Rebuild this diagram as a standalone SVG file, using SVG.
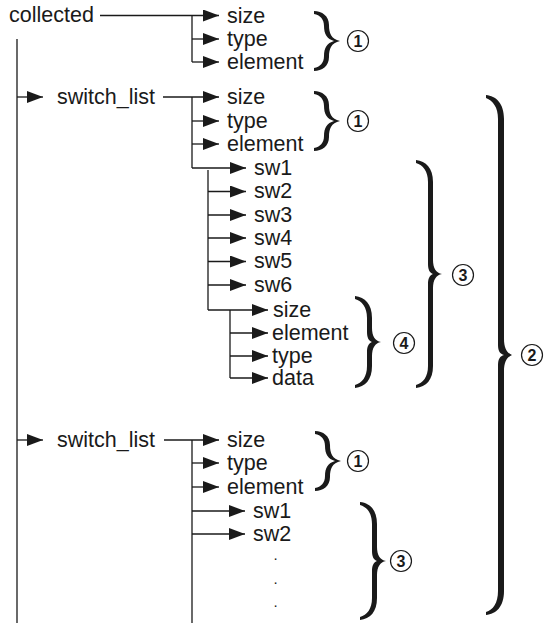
<svg xmlns="http://www.w3.org/2000/svg" xmlns:xlink="http://www.w3.org/1999/xlink" width="544" height="626" viewBox="0 0 544 626">
<style>
text{font-family:"Liberation Sans",Arial,sans-serif;font-size:21.5px;fill:#1a1a1a}
.ln{stroke:#1a1a1a;stroke-width:1.3;fill:none}
.ar{marker-end:url(#ah)}
.br{fill:#1a1a1a}
.cir{fill:none;stroke:#1a1a1a;stroke-width:1.2}
.num{font-size:16px;font-weight:bold;text-anchor:middle}
.dot{font-size:15px}
</style>
<defs>
<marker id="ah" markerWidth="16" markerHeight="12" refX="16" refY="6" orient="auto" markerUnits="userSpaceOnUse"><path d="M0,0 L16,6 L0,12 z" fill="#1a1a1a"/></marker>
<path id="b1" d="M0,0 c8,0 15,5 15,14 c0,8 2,14 11,16 c-9,2 -11,8 -11,16 c0,9 -7,14 -15,14 l0,-3 c6,-1 10,-5 10,-12 c0,-8 3,-13 10,-15 c-7,-2 -10,-7 -10,-15 c0,-7 -4,-11 -10,-12 z"/>
</defs>
<rect width="544" height="626" fill="#fff"/>
<g id="connectors">
<path class="ln" d="M17,39 V623"/>
<path class="ln ar" d="M17,97 H43"/>
<path class="ln ar" d="M17,440 H43"/>
<path class="ln ar" d="M100,15.5 H219"/>
<path class="ln" d="M192,15.5 V62"/>
<path class="ln ar" d="M192,39 H219"/>
<path class="ln ar" d="M192,62 H219"/>
<path class="ln ar" d="M163,97 H219"/>
<path class="ln" d="M192,97 V168"/>
<path class="ln ar" d="M192,121 H219"/>
<path class="ln ar" d="M192,144 H219"/>
<path class="ln ar" d="M192,168 H246"/>
<path class="ln" d="M208,170 V310"/>
<path class="ln ar" d="M208,191.5 H246"/>
<path class="ln ar" d="M208,215 H246"/>
<path class="ln ar" d="M208,238 H246"/>
<path class="ln ar" d="M208,261.5 H246"/>
<path class="ln ar" d="M208,285 H246"/>
<path class="ln ar" d="M208,310 H268"/>
<path class="ln" d="M230,310 V378"/>
<path class="ln ar" d="M230,333 H268"/>
<path class="ln ar" d="M230,356 H268"/>
<path class="ln ar" d="M230,378 H268"/>
<path class="ln ar" d="M164,440 H219"/>
<path class="ln" d="M192,440 V623"/>
<path class="ln ar" d="M192,463 H219"/>
<path class="ln ar" d="M192,487 H219"/>
<path class="ln ar" d="M192,511 H245"/>
<path class="ln ar" d="M192,534 H245"/>
</g>
<g id="n-collected"><text x="9" y="22">collected</text></g>
<g id="n-g1-size"><text x="227" y="23">size</text></g>
<g id="n-g1-type"><text x="227" y="45.5">type</text></g>
<g id="n-g1-element"><text x="227" y="68.5">element</text></g>
<g id="n-switch_list-1"><text x="57" y="103.5">switch_list</text></g>
<g id="n-g2-size"><text x="227" y="103.5">size</text></g>
<g id="n-g2-type"><text x="227" y="127.5">type</text></g>
<g id="n-g2-element"><text x="227" y="150.5">element</text></g>
<g id="n-g2-sw1"><text x="254" y="174.5">sw1</text></g>
<g id="n-g2-sw2"><text x="254" y="198">sw2</text></g>
<g id="n-g2-sw3"><text x="254" y="221.5">sw3</text></g>
<g id="n-g2-sw4"><text x="254" y="244.5">sw4</text></g>
<g id="n-g2-sw5"><text x="254" y="268">sw5</text></g>
<g id="n-g2-sw6"><text x="254" y="291.5">sw6</text></g>
<g id="n-g2-sub-size"><text x="273" y="316.5">size</text></g>
<g id="n-g2-sub-element"><text x="272" y="339.5">element</text></g>
<g id="n-g2-sub-type"><text x="272" y="362.5">type</text></g>
<g id="n-g2-sub-data"><text x="272" y="384.5">data</text></g>
<g id="n-switch_list-2"><text x="57" y="446.5">switch_list</text></g>
<g id="n-g3-size"><text x="227" y="446.5">size</text></g>
<g id="n-g3-type"><text x="227" y="469.5">type</text></g>
<g id="n-g3-element"><text x="227" y="493.5">element</text></g>
<g id="n-g3-sw1"><text x="253" y="517.5">sw1</text></g>
<g id="n-g3-sw2"><text x="253" y="540.5">sw2</text></g>
<g id="n-g3-dots"><text class="dot" x="273.5" y="560">.</text><text class="dot" x="273.5" y="584">.</text><text class="dot" x="273.5" y="607">.</text></g>
<g id="brace-1a" class="br"><use xlink:href="#b1" x="314" y="11"/></g>
<g id="brace-1b" class="br"><use xlink:href="#b1" x="314" y="91"/></g>
<g id="brace-1c" class="br"><use xlink:href="#b1" x="315" y="431"/></g>
<g id="brace-3a" class="br"><path d="M416,160 c10,1 17,8 17,22 v78 c0,8 3,13 9,14 c-6,1 -9,6 -9,14 v78 c0,14 -7,21 -17,22 l0,-3 c7,-2 12,-8 12,-19 v-82 c0,-6 2,-9 5,-10 c-3,-1 -5,-4 -5,-10 v-82 c0,-11 -5,-17 -12,-19 z"/></g>
<g id="brace-4" class="br"><path d="M355,296 c10,1 17,8 17,22 v10 c0,8 3,13 9,14 c-6,1 -9,6 -9,14 v10 c0,14 -7,21 -17,22 l0,-3 c7,-2 12,-8 12,-19 v-14 c0,-6 2,-9 5,-10 c-3,-1 -5,-4 -5,-10 v-14 c0,-11 -5,-17 -12,-19 z"/></g>
<g id="brace-3b" class="br"><path d="M360,502 c10,1 17,8 17,22 v23 c0,8 3,13 9,14 c-6,1 -9,6 -9,14 v23 c0,14 -7,21 -17,22 l0,-3 c7,-2 12,-8 12,-19 v-27 c0,-6 2,-9 5,-10 c-3,-1 -5,-4 -5,-10 v-27 c0,-11 -5,-17 -12,-19 z"/></g>
<g id="brace-2" class="br"><path d="M486,95 c10,1 18,8 18,24 v220 c0,9 3,14 8,16 c-5,2 -8,7 -8,16 v220 c0,16 -8,23 -18,24 l0,-3 c7,-2 12,-9 12,-21 v-226 c0,-6 2,-9 6,-10 c-4,-1 -6,-4 -6,-10 v-226 c0,-12 -5,-18 -12,-21 z"/></g>
<g id="label-1a"><circle class="cir" cx="358" cy="41" r="10.5"/><text class="num" x="358" y="46.8">1</text></g>
<g id="label-1b"><circle class="cir" cx="358" cy="121" r="10.5"/><text class="num" x="358" y="126.8">1</text></g>
<g id="label-1c"><circle class="cir" cx="358" cy="461" r="10.5"/><text class="num" x="358" y="466.8">1</text></g>
<g id="label-3a"><circle class="cir" cx="463" cy="275" r="10.5"/><text class="num" x="463" y="280.8">3</text></g>
<g id="label-4"><circle class="cir" cx="404" cy="343" r="10.5"/><text class="num" x="404" y="348.8">4</text></g>
<g id="label-3b"><circle class="cir" cx="401" cy="561" r="10.5"/><text class="num" x="401" y="566.8">3</text></g>
<g id="label-2"><circle class="cir" cx="532" cy="355" r="10.5"/><text class="num" x="532" y="360.8">2</text></g>
</svg>
